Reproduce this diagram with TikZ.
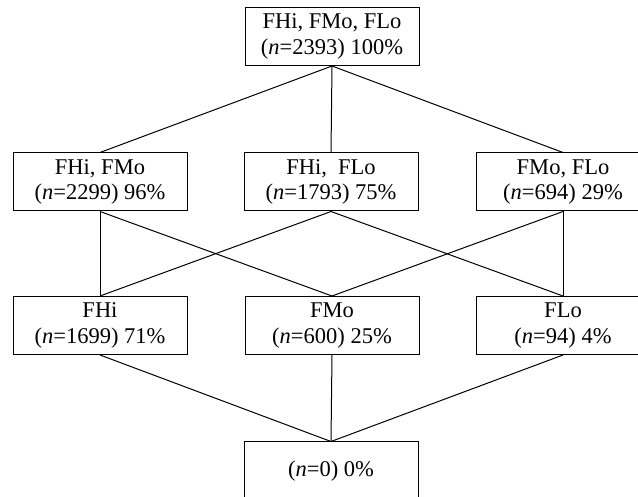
\documentclass[tikz,border=0pt]{standalone}
\usepackage{fontspec}
\setmainfont{Liberation Serif}
\begin{document}
\begin{tikzpicture}[x=1pt,y=1pt,
  box/.style={draw,line width=1pt,minimum width=174pt,minimum height=58pt,inner sep=0pt,align=center,
    font=\fontsize{22.5}{25.5}\selectfont},
  link/.style={line width=1pt}]
\clip (0,0) rectangle (638,496);
\useasboundingbox (0,0) rectangle (638,496);
\node[box] (t) at (332,459.5) {FHi, FMo, FLo\\(\textit{n}=2393) 100\%};
\node[box] (a) at (100,314) {FHi, FMo\\(\textit{n}=2299) 96\%};
\node[box] (b) at (331,314) {FHi,\ \ FLo\\(\textit{n}=1793) 75\%};
\node[box] (c) at (563,314) {FMo, FLo\\(\textit{n}=694) 29\%};
\node[box] (d) at (100,170.5) {FHi\\(\textit{n}=1699) 71\%};
\node[box] (e) at (332,170.5) {FMo\\(\textit{n}=600) 25\%};
\node[box] (f) at (563,170.5) {FLo\\(\textit{n}=94) 4\%};
\node[box] (g) at (331,25) {(\textit{n}=0) 0\%};
\draw[link] (t.south) -- (a.north);
\draw[link] (t.south) -- (b.north);
\draw[link] (t.south) -- (c.north);
\draw[link] (a.south) -- (d.north);
\draw[link] (a.south) -- (e.north);
\draw[link] (b.south) -- (d.north);
\draw[link] (b.south) -- (f.north);
\draw[link] (c.south) -- (e.north);
\draw[link] (c.south) -- (f.north);
\draw[link] (d.south) -- (g.north);
\draw[link] (e.south) -- (g.north);
\draw[link] (f.south) -- (g.north);
\end{tikzpicture}
\end{document}
